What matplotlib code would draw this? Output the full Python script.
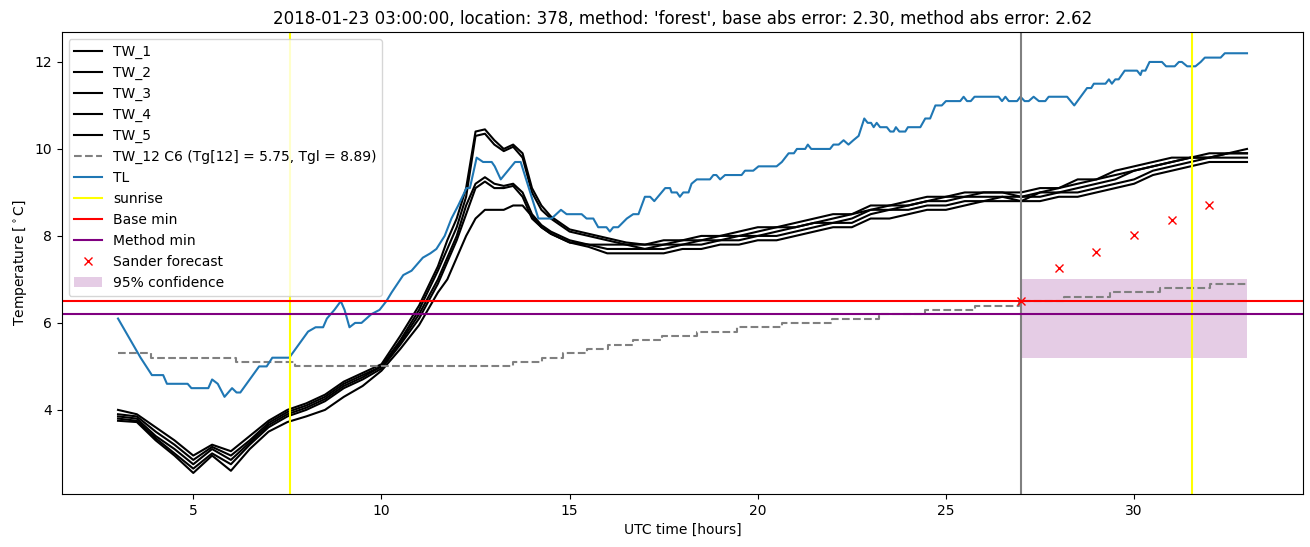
import matplotlib
matplotlib.use("Agg")
import matplotlib.pyplot as plt
import numpy as np

# time axis of the TW sensor series (finer around the midday peak)
tw_hours = np.r_[np.arange(3.0, 11.5, 0.5), np.arange(11.5, 15.0, 0.25), np.arange(15.0, 33.01, 0.5)]

tw_1 = [4.0, 3.9, 3.6, 3.3, 2.95, 3.2, 3.05, 3.4, 3.75, 4.0, 4.15, 4.35, 4.65, 4.85, 5.05, 5.7, 6.4,
        7.3, 7.9, 8.4, 9.1, 10.4, 10.45, 10.2, 10.0, 10.1, 9.9, 9.1, 8.7, 8.45, 8.3,
        8.15, 8.05, 7.95, 7.85, 7.8, 7.9, 7.9, 8.0, 8.0, 8.1, 8.2, 8.2, 8.3, 8.4, 8.5, 8.5,
        8.7, 8.7, 8.8, 8.9, 8.9, 9.0, 9.0, 9.0, 9.0, 9.1, 9.1, 9.3, 9.3, 9.5, 9.6, 9.7,
        9.8, 9.8, 9.9, 9.9, 10.0]
tw_2 = [3.9, 3.85, 3.5, 3.2, 2.85, 3.15, 2.95, 3.3, 3.7, 3.95, 4.1, 4.3, 4.6, 4.8, 5.0, 5.6, 6.3,
        7.2, 7.7, 8.2, 8.9, 10.3, 10.35, 10.1, 9.95, 10.05, 9.8, 9.0, 8.6, 8.4, 8.25,
        8.1, 8.0, 7.9, 7.8, 7.8, 7.8, 7.9, 7.9, 8.0, 8.0, 8.1, 8.2, 8.2, 8.3, 8.4, 8.5,
        8.6, 8.7, 8.7, 8.8, 8.9, 8.9, 9.0, 9.0, 8.9, 9.0, 9.1, 9.2, 9.3, 9.4, 9.5, 9.6,
        9.7, 9.8, 9.8, 9.9, 9.9]
tw_3 = [3.85, 3.8, 3.4, 3.1, 2.75, 3.1, 2.85, 3.25, 3.65, 3.9, 4.05, 4.25, 4.55, 4.75, 5.0, 5.55, 6.2,
        7.0, 7.5, 8.0, 8.7, 9.2, 9.35, 9.2, 9.15, 9.2, 9.0, 8.5, 8.25, 8.1, 8.0,
        7.9, 7.8, 7.8, 7.8, 7.7, 7.8, 7.8, 7.9, 7.9, 8.0, 8.0, 8.1, 8.2, 8.3, 8.3, 8.4,
        8.6, 8.6, 8.7, 8.8, 8.8, 8.9, 8.9, 8.9, 8.8, 9.0, 9.0, 9.1, 9.2, 9.3, 9.5, 9.6,
        9.7, 9.8, 9.8, 9.9, 9.9]
tw_4 = [3.8, 3.75, 3.35, 3.0, 2.65, 3.0, 2.75, 3.2, 3.6, 3.85, 4.0, 4.2, 4.5, 4.7, 4.95, 5.5, 6.1,
        6.9, 7.4, 7.9, 8.5, 9.1, 9.25, 9.1, 9.1, 9.15, 8.9, 8.4, 8.2, 8.05, 7.95,
        7.85, 7.8, 7.7, 7.7, 7.7, 7.7, 7.8, 7.8, 7.9, 7.9, 8.0, 8.0, 8.1, 8.2, 8.3, 8.3,
        8.5, 8.6, 8.6, 8.7, 8.7, 8.8, 8.8, 8.9, 8.9, 8.9, 9.0, 9.0, 9.1, 9.2, 9.3, 9.5,
        9.6, 9.7, 9.8, 9.8, 9.8]
tw_5 = [3.75, 3.72, 3.3, 2.95, 2.55, 2.95, 2.6, 3.1, 3.5, 3.72, 3.85, 4.0, 4.3, 4.55, 4.9, 5.4, 5.95,
        6.7, 7.0, 7.5, 8.0, 8.4, 8.6, 8.6, 8.6, 8.7, 8.7, 8.45, 8.2, 8.05, 7.95,
        7.85, 7.75, 7.6, 7.6, 7.6, 7.6, 7.7, 7.7, 7.8, 7.8, 7.9, 7.9, 8.0, 8.1, 8.2, 8.2,
        8.4, 8.4, 8.5, 8.6, 8.6, 8.7, 8.8, 8.8, 8.8, 8.8, 8.9, 8.9, 9.0, 9.1, 9.2, 9.4,
        9.5, 9.6, 9.7, 9.7, 9.7]

# TW_12 C6 (steps of 0.1 degree)
tw12_hours = [3.0, 3.88, 6.14, 7.7, 13.5, 14.26, 14.83, 15.45, 16.03, 16.69, 17.45, 18.38,
              19.44, 20.64, 21.97, 23.21, 24.45, 25.78, 26.93, 28.13, 29.37, 30.7, 32.03, 33.0]
tw12_temp = [5.3, 5.2, 5.1, 5.0, 5.1, 5.2, 5.3, 5.4, 5.5, 5.6, 5.7, 5.8,
             5.9, 6.0, 6.1, 6.2, 6.3, 6.4, 6.5, 6.6, 6.7, 6.8, 6.9, 6.9]

# TL air temperature
tl_hours = [3.0, 3.2, 3.6, 3.9, 4.2, 4.3, 4.85, 4.95, 5.4, 5.5, 5.65, 5.83, 6.03, 6.15, 6.25, 6.75,
            6.95, 7.1, 7.55, 8.05, 8.25, 8.45, 8.55, 8.75, 8.92, 9.02, 9.15, 9.3, 9.47, 9.73, 9.95,
            10.13, 10.27, 10.58, 10.8, 11.1, 11.3, 11.46, 11.68, 11.86, 12.04, 12.26, 12.35, 12.53,
            12.7, 12.93, 13.01, 13.17, 13.55, 13.7, 14.17, 14.52, 14.77, 14.92, 15.32, 15.45, 15.63,
            15.76, 15.98, 16.07, 16.16, 16.29, 16.52, 16.69, 16.83, 17.0, 17.14, 17.25, 17.54, 17.67,
            17.71, 17.85, 17.93, 18.02, 18.16, 18.24, 18.38, 18.73, 18.82, 18.9, 19.0, 19.13, 19.57,
            19.66, 19.88, 20.02, 20.5, 20.64, 20.82, 20.96, 21.04, 21.26, 21.33, 21.42, 21.92, 22.01,
            22.15, 22.28, 22.41, 22.54, 22.68, 22.83, 22.92, 23.01, 23.08, 23.16, 23.25, 23.43, 23.52,
            23.61, 23.67, 23.76, 23.92, 23.99, 24.32, 24.45, 24.58, 24.72, 24.89, 25.0, 25.38, 25.47,
            25.56, 25.66, 25.76, 26.4, 26.49, 26.58, 26.67, 26.89, 26.98, 27.09, 27.2, 27.33, 27.47,
            27.64, 27.73, 28.22, 28.41, 28.75, 28.86, 28.93, 29.24, 29.33, 29.41, 29.5, 29.59, 29.75,
            30.08, 30.17, 30.21, 30.3, 30.41, 30.74, 30.85, 31.08, 31.19, 31.27, 31.41, 31.63, 31.77,
            31.88, 32.3, 32.41, 33.0]
tl_temp = [6.1, 5.8, 5.2, 4.8, 4.8, 4.6, 4.6, 4.5, 4.5, 4.7, 4.6, 4.3, 4.5, 4.4, 4.4, 5.0,
           5.0, 5.2, 5.2, 5.8, 5.9, 5.9, 6.1, 6.3, 6.5, 6.3, 5.9, 6.0, 6.0, 6.2, 6.3,
           6.5, 6.7, 7.1, 7.2, 7.5, 7.6, 7.7, 8.0, 8.4, 8.7, 9.1, 9.1, 9.8,
           9.7, 9.7, 9.6, 9.3, 9.7, 9.7, 8.4, 8.4, 8.6, 8.5, 8.5, 8.4, 8.4,
           8.2, 8.2, 8.1, 8.2, 8.2, 8.4, 8.5, 8.5, 8.9, 8.9, 8.8, 9.1, 9.1,
           9.0, 9.0, 8.9, 9.0, 9.0, 9.2, 9.3, 9.3, 9.4, 9.4, 9.3, 9.4, 9.4,
           9.5, 9.5, 9.6, 9.6, 9.7, 9.9, 9.9, 10.0, 10.0, 10.1, 10.0, 10.0, 10.1,
           10.1, 10.2, 10.1, 10.2, 10.3, 10.7, 10.6, 10.6, 10.5, 10.6, 10.5, 10.5, 10.4,
           10.4, 10.5, 10.4, 10.4, 10.5, 10.5, 10.7, 10.7, 11.0, 11.0, 11.1, 11.1, 11.2,
           11.1, 11.1, 11.2, 11.2, 11.1, 11.2, 11.1, 11.1, 11.2, 11.1, 11.1, 11.2, 11.1,
           11.1, 11.2, 11.2, 11.0, 11.4, 11.4, 11.5, 11.5, 11.6, 11.5, 11.6, 11.6, 11.8,
           11.8, 11.7, 11.8, 11.8, 12.0, 12.0, 11.9, 11.9, 12.0, 12.0, 11.9, 11.9, 12.0,
           12.1, 12.1, 12.2, 12.2]

sunrise = [7.58, 31.55]
forecast_start = 27.0
base_min = 6.5
method_min = 6.2
sander_hours = [27, 28, 29, 30, 31, 32]
sander_temp = [6.5, 7.27, 7.64, 8.03, 8.36, 8.71]
conf_hours = [27.0, 33.0]
conf_low = 5.2
conf_high = 7.0

fig, ax = plt.subplots(figsize=(13.1, 5.47), dpi=100)
fig.subplots_adjust(left=0.047, right=0.995, top=0.941, bottom=0.097)

for i, tw in enumerate([tw_1, tw_2, tw_3, tw_4, tw_5]):
    ax.plot(tw_hours, tw, color='black', label='TW_%d' % (i + 1))
ax.plot(tw12_hours, tw12_temp, '--', color='grey', drawstyle='steps-post',
        label='TW_12 C6 (Tg[12] = 5.75, Tgl = 8.89)')
ax.plot(tl_hours, tl_temp, label='TL')
ax.axvline(sunrise[0], color='yellow', label='sunrise')
ax.axvline(sunrise[1], color='yellow')
ax.axvline(forecast_start, color='grey')
ax.axhline(base_min, color='red', label='Base min')
ax.axhline(method_min, color='purple', label='Method min')
ax.plot(sander_hours, sander_temp, 'rx', label='Sander forecast')
ax.fill_between(conf_hours, conf_low, conf_high, color='purple', alpha=0.2,
                linewidth=0, label='95% confidence')

ax.set_xlabel('UTC time [hours]')
ax.set_ylabel(r'Temperature [$^\circ$C]')
ax.set_title("2018-01-23 03:00:00, location: 378, method: 'forest', "
             "base abs error: 2.30, method abs error: 2.62")
ax.legend(loc='upper left')

fig.savefig('out.png')
